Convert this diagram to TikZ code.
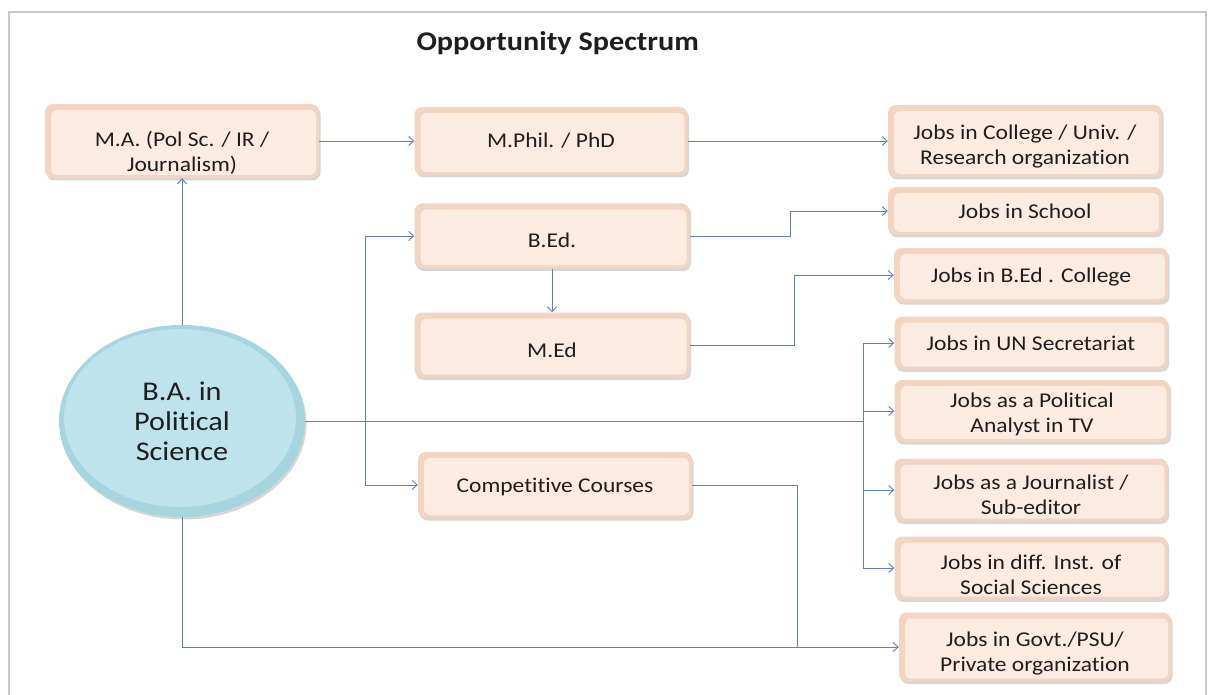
\documentclass[tikz,border=0pt]{standalone}
\usepackage{fontspec}
\setmainfont{Carlito}[FakeStretch=1.12, Ligatures={NoCommon}]
\usetikzlibrary{arrows.meta,shadows,shapes.geometric}
\definecolor{peach}{HTML}{F1D4C1}
\definecolor{peachin}{HTML}{FCEBE0}
\definecolor{sky}{HTML}{A6D4DF}
\definecolor{skyin}{HTML}{BFE3EC}
\definecolor{conn}{HTML}{5B82BE}
\definecolor{framec}{HTML}{C8C8C8}
\definecolor{ink}{HTML}{1E1E1E}
\begin{document}
\begin{tikzpicture}[x=1pt,y=-1pt,
  box/.style n args={2}{draw=none, fill=peach, rounded corners=8pt,
    minimum width=#1pt, minimum height=#2pt, inner sep=2pt, align=center,
    text=ink, font=\fontsize{21}{25}\selectfont,
    drop shadow={shadow xshift=1.5pt,shadow yshift=-2.5pt,fill=black!40,opacity=.4},
    path picture={\fill[peachin, rounded corners=6pt]
      ([shift={(6pt,-6pt)}]path picture bounding box.north west) rectangle
      ([shift={(-3pt,3pt)}]path picture bounding box.south east);}},
  txt/.style={align=center, text=ink, font=\fontsize{21}{25}\selectfont, inner sep=0pt},
  lbl/.style n args={2}{label={[txt,yshift=-#1pt]center:{#2}}},
  arr/.style={draw=conn, line width=0.9pt, -{Straight Barb[length=5pt,width=9pt]}},
  ln/.style={draw=conn, line width=0.9pt}]
\useasboundingbox (0,0) rectangle (1208,695);
\fill[white] (0,0) rectangle (1208,695);
\draw[framec, line width=2pt] (9,12) rectangle (1206,710);

\node[anchor=base west, text=ink, font=\bfseries\fontsize{27}{30}\selectfont] (title) at (413,51) {Opportunity Spectrum};

% left column
\node[box={274}{74}, lbl={12}{M.A. (Pol Sc. / IR /\\ Journalism)}] (ma) at (182,141) {};
\node[ellipse, minimum width=246pt, minimum height=192pt, inner sep=0pt, fill=sky,
  drop shadow={shadow xshift=1.5pt,shadow yshift=-2.5pt,fill=black!40,opacity=.4},
  path picture={\fill[skyin] ([shift={(-2pt,3pt)}]path picture bounding box.center) ellipse (116pt and 89pt);},
  align=center, text=ink, font=\fontsize{27}{30}\selectfont] (ba) at (182,421) {B.A. in\\ Political\\ Science};

% middle column
\node[box={273}{68}, lbl={0}{M.Phil. / PhD}] (mphil) at (551,141) {};
\node[box={275}{65}, lbl={4}{B.Ed.}] (bed) at (552,236) {};
\node[box={275}{65}, lbl={5}{M.Ed}] (med) at (552,345) {};
\node[box={274}{66}, lbl={2}{Competitive Courses}] (comp) at (555,485) {};

% right column
\node[box={274}{72}, lbl={6}{Jobs in College / Univ. /\\ Research organization}] (college) at (1025,141) {};
\node[box={274}{48}, lbl={0}{Jobs in School}] (school) at (1025,211) {};
\node[box={274}{54}, lbl={2}{Jobs in B.Ed . College}] (bedcol) at (1031,275) {};
\node[box={273}{53}, lbl={0}{Jobs in UN Secretariat}] (un) at (1031,343) {};
\node[box={275}{62}, lbl={3}{Jobs as a Political\\ Analyst in TV}] (pol) at (1032,411) {};
\node[box={273}{63}, lbl={5}{Jobs as a Journalist /\\ Sub-editor}] (jour) at (1031,490) {};
\node[box={273}{63}, lbl={7}{Jobs in diff. Inst. of\\ Social Sciences}] (diff) at (1031,568) {};
\node[box={272}{69}, lbl={7}{Jobs in Govt./PSU/\\ Private organization}] (govt) at (1035,647) {};

% helper coordinates
\coordinate (lv) at (365,0);
\coordinate (bus) at (863,0);
\coordinate (sch) at (790,0);
\coordinate (bcol) at (794,0);
\coordinate (gv) at (797,0);

% connectors
\draw[arr] (ba.north) -- (ma.south);
\draw[arr] (ma.east) -- (mphil.west);
\draw[arr] (mphil.east) -- (college.west);
\draw[arr] (bed.east) -- (sch |- bed.east) |- (school.west);
\draw[arr] (bed.south) -- (med.north);
\draw[arr] (med.east) -- (bcol |- med.east) |- (bedcol.west);

\draw[ln] (ba.east) -- (bus |- ba.east);
\draw[ln] (bus |- un.west) -- (bus |- diff.west);
\draw[arr] (bus |- un.west) -- (un.west);
\draw[arr] (bus |- pol.west) -- (pol.west);
\draw[arr] (bus |- jour.west) -- (jour.west);
\draw[arr] (bus |- diff.west) -- (diff.west);

\draw[arr] (lv |- bed.west) -- (bed.west);
\draw[arr] (lv |- bed.west) -- (lv |- comp.west) -- (comp.west);

\draw[ln] (comp.east) -- (gv |- comp.east) -- (gv |- govt.west);
\draw[arr] (ba.south) |- (govt.west);
\end{tikzpicture}
\end{document}
